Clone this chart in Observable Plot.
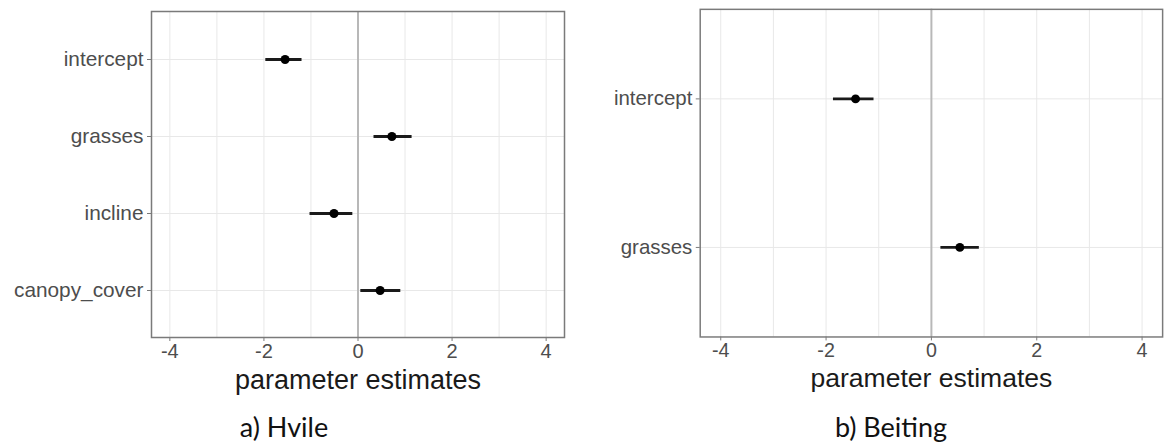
<!DOCTYPE html>
<html>
<head>
<meta charset="utf-8">
<script src="https://cdn.jsdelivr.net/npm/d3@7"></script>
<script src="https://cdn.jsdelivr.net/npm/@observablehq/plot@0.6"></script>
<style>
  html, body { margin: 0; padding: 0; background: #fff; overflow: hidden; width: 1170px; height: 443px; }
  #wrap { position: relative; width: 1170px; height: 443px; }
  .panel { position: absolute; top: 0; }
  .panel svg text { font-family: "Liberation Sans", Arial, sans-serif; }
  .cap { position: absolute; font-family: Lato, "Open Sans", sans-serif; font-size: 27px; line-height: 28px; color: #111; white-space: nowrap; text-align: center; width: 300px; }
</style>
</head>
<body>
<div id="wrap"></div>
<script>
// Panel a) Hvile
const hvileTerms = ["intercept", "grasses", "incline", "canopy_cover"];
const hvileEst   = [-1.55, 0.72, -0.51, 0.47];
const hvileLo    = [-1.96, 0.34, -1.02, 0.06];
const hvileHi    = [-1.19, 1.15, -0.11, 0.91];

// Panel b) Beiting
const beitingTerms = ["intercept", "grasses"];
const beitingEst   = [-1.44, 0.54];
const beitingLo    = [-1.86, 0.18];
const beitingHi    = [-1.09, 0.91];

const xTicks = [-4, -2, 0, 2, 4];
const xMinor = [-4, -3, -2, -1, 0, 1, 2, 3, 4];
const xTitle = "parameter estimates";
const captions = ["a) Hvile", "b) Beiting"];

const FONT = "Liberation Sans, Arial, sans-serif";

function rows(terms, est, lo, hi) {
  return terms.map((t, i) => ({term: t, est: est[i], lo: lo[i], hi: hi[i]}));
}

function panel(terms, est, lo, hi, dims) {
  const data = rows(terms, est, lo, hi);
  return Plot.plot({
    width: dims.width,
    height: dims.height,
    marginLeft: dims.ml,
    marginRight: dims.mr,
    marginTop: dims.mt,
    marginBottom: dims.mb,
    style: `font-family: ${FONT}; color: #4d4d4d; background: transparent; overflow: visible;`,
    x: {domain: [-4.39, 4.39]},
    y: {type: "point", domain: terms, padding: 0.6},
    marks: [
      Plot.gridX(xMinor, {stroke: "#e8e8e8", strokeOpacity: 1, strokeWidth: 1}),
      Plot.gridY(terms, {stroke: "#e8e8e8", strokeOpacity: 1, strokeWidth: 1}),
      Plot.ruleX([0], {stroke: "#b8b8b8", strokeWidth: 2}),
      Plot.ruleY(data, {y: "term", x1: "lo", x2: "hi", stroke: "#1a1a1a", strokeWidth: 2.8}),
      Plot.dot(data, {x: "est", y: "term", r: 4.5, fill: "#000", stroke: "none"}),
      Plot.frame({stroke: "#7a7a7a", strokeWidth: 1.5}),
      Plot.axisX(xTicks, {tickSize: 4, tickPadding: 2, fontSize: 20, label: null, stroke: "#7a7a7a", fontFamily: FONT, tickFormat: d => String(d)}),
      Plot.axisY(terms, {tickSize: 4, tickPadding: 4, fontSize: 20.8, label: null, stroke: "#7a7a7a", fontFamily: FONT}),
      Plot.text([xTitle], {frameAnchor: "bottom", lineAnchor: "bottom", dy: 51, fontSize: 27, fill: "#1a1a1a", fontFamily: FONT})
    ]
  });
}

const wrap = document.getElementById("wrap");

const a = panel(hvileTerms, hvileEst, hvileLo, hvileHi, {width: 580, height: 400, ml: 151, mr: 16, mt: 11, mb: 63});
const divA = document.createElement("div");
divA.className = "panel";
divA.style.left = "0px";
divA.appendChild(a);
wrap.appendChild(divA);

const b = panel(beitingTerms, beitingEst, beitingLo, beitingHi, {width: 620, height: 400, ml: 142, mr: 8, mt: 9, mb: 58});
const divB = document.createElement("div");
divB.className = "panel";
divB.style.left = "560px";
divB.appendChild(b);
wrap.appendChild(divB);

const capCenters = [284, 891];
captions.forEach((c, i) => {
  const d = document.createElement("div");
  d.className = "cap";
  d.textContent = c;
  d.style.left = (capCenters[i] - 150) + "px";
  d.style.top = "413px";
  wrap.appendChild(d);
});
</script>
</body>
</html>
